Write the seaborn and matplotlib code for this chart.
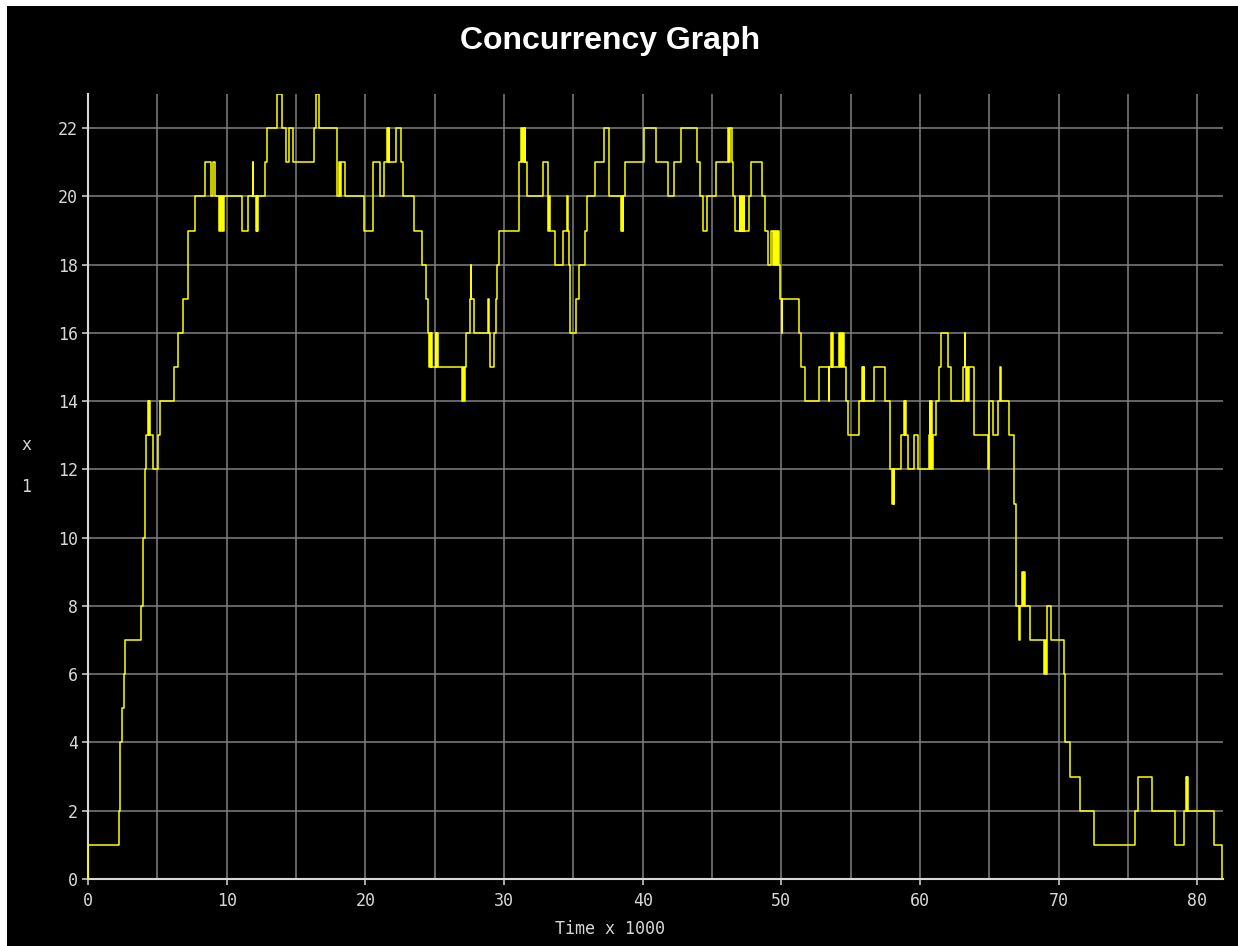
import matplotlib
matplotlib.use("Agg")
import matplotlib.pyplot as plt
from matplotlib.patches import Rectangle
from matplotlib.ticker import MultipleLocator
import pandas as pd
import seaborn as sns

# Number of concurrently running tasks; time in thousands, value holds until the next change
time_k = [
    0.00, 0.00, 2.21, 2.31, 2.45, 2.57, 2.69, 3.82, 3.94, 4.08, 4.21, 4.33, 4.38, 4.42, 4.47,
    4.69, 5.07, 5.21, 6.22, 6.47, 6.85, 7.21, 7.71, 8.46, 8.87, 9.01, 9.13,
    9.44, 9.52, 9.60, 9.68, 9.76, 9.84, 9.93, 11.10, 11.51, 11.87, 11.92,
    12.09, 12.16, 12.22, 12.28, 12.76, 12.88, 13.65, 13.99, 14.25, 14.51, 14.78,
    16.32, 16.42, 16.68, 17.93, 18.12, 18.18, 18.25, 18.55, 19.92, 20.57, 21.05, 21.32,
    21.58, 21.64, 21.69, 21.74, 22.21, 22.57, 22.71, 23.48, 24.10, 24.35, 24.49,
    24.61, 24.66, 24.71, 24.76, 24.80, 25.07, 25.12, 25.17, 25.23,
    26.97, 27.03, 27.08, 27.16, 27.23, 27.52, 27.61, 27.65, 27.85, 28.86, 28.91, 28.98,
    29.27, 29.39, 29.50, 29.63, 31.05, 31.24, 31.31, 31.37, 31.43, 31.49, 31.55, 31.63,
    32.78, 33.19, 33.26, 33.31, 33.69, 34.27, 34.56, 34.61, 34.72, 34.77, 35.18, 35.42,
    35.86, 35.96, 36.58, 37.20, 37.59, 38.45, 38.52, 38.56, 38.60, 38.69, 40.09, 40.95,
    41.86, 42.23, 42.73, 43.89, 44.12, 44.36, 44.65, 45.28, 46.17, 46.23, 46.29, 46.41,
    46.53, 46.65, 47.01, 47.04, 47.16, 47.19, 47.30, 47.33, 47.68, 47.80, 48.64, 48.81,
    49.05, 49.29, 49.37, 49.45, 49.53, 49.61, 49.69, 49.77, 49.84, 49.91, 50.02, 50.06,
    51.29, 51.43, 51.70, 52.68, 53.42, 53.45, 53.57, 53.62, 53.68, 53.73, 54.15, 54.22,
    54.27, 54.35, 54.42, 54.50, 54.65, 54.79, 55.61, 55.85, 55.90, 55.93, 55.97, 56.69,
    57.46, 57.87, 58.01, 58.06, 58.11, 58.16, 58.61, 58.85, 58.90, 58.95, 59.00, 59.12,
    59.57, 59.89, 60.66, 60.70, 60.75, 60.80, 60.86, 60.92, 61.14, 61.38, 61.52, 62.00,
    62.24, 63.11, 63.23, 63.27, 63.35, 63.40, 63.45, 63.50, 63.88, 64.91, 64.98, 65.27,
    65.66, 65.80, 65.84, 66.42, 66.76, 66.91, 67.15, 67.19, 67.39, 67.45, 67.50, 67.56,
    67.92, 68.93, 69.00, 69.07, 69.17, 69.43, 70.35, 70.46, 70.82, 71.57, 72.58, 75.49,
    75.75, 76.73, 78.37, 79.02, 79.16, 79.22, 79.28, 79.32, 81.18, 81.81, 81.85,
]
running = [
    0, 1, 2, 4, 5, 6, 7, 8, 10, 12, 13, 14, 13, 14, 13,
    12, 13, 14, 15, 16, 17, 19, 20, 21, 20, 21, 20,
    19, 20, 19, 20, 19, 20, 20, 19, 20, 21, 20,
    19, 20, 19, 20, 21, 22, 23, 22, 21, 22, 21,
    22, 23, 22, 20, 21, 20, 21, 20, 19, 21, 20, 21,
    22, 21, 22, 21, 22, 21, 20, 19, 18, 17, 16,
    15, 16, 15, 16, 15, 16, 15, 16, 15,
    14, 15, 14, 15, 16, 17, 18, 17, 16, 17, 16, 15,
    16, 17, 18, 19, 21, 22, 21, 22, 21, 22, 21, 20,
    21, 19, 20, 19, 18, 19, 20, 19, 18, 16, 17, 18,
    19, 20, 21, 22, 20, 19, 20, 19, 20, 21, 22, 21,
    20, 21, 22, 21, 20, 19, 20, 21, 22, 21, 22, 21,
    20, 19, 20, 19, 20, 19, 20, 19, 20, 21, 20, 19,
    18, 19, 18, 19, 18, 19, 18, 19, 18, 17, 16, 17,
    16, 15, 14, 15, 14, 15, 16, 15, 16, 15, 16, 15,
    16, 15, 16, 15, 14, 13, 14, 15, 14, 15, 14, 15,
    14, 12, 11, 12, 11, 12, 13, 14, 13, 14, 13, 12,
    13, 12, 13, 14, 12, 14, 12, 13, 14, 15, 16, 15,
    14, 15, 16, 15, 14, 15, 14, 15, 13, 12, 14, 13,
    14, 15, 14, 13, 11, 8, 7, 8, 9, 8, 9, 8,
    7, 6, 7, 6, 8, 7, 6, 4, 3, 2, 1, 2,
    3, 2, 1, 2, 3, 2, 3, 2, 1, 0, 0,
]
y_ticks = list(range(0, 23, 2))
x_ticks = list(range(0, 81, 10))

sns.set_theme(style="dark")
plt.rcParams["font.family"] = ["DejaVu Sans Mono", "DejaVu Sans"]

W, H = 1238, 946
fig = plt.figure(figsize=(W / 100, H / 100), dpi=100, facecolor="white")
fig.patches.append(Rectangle((7 / W, 0), 1 - 7 / W, 1 - 6 / H, transform=fig.transFigure,
                             facecolor="black", edgecolor="none", zorder=-10))

ax = fig.add_axes([88 / W, 1 - 879 / H, (1223 - 88) / W, (879 - 94) / H])
ax.set_facecolor("black")

df = pd.DataFrame({"time": time_k, "threads": running})
sns.lineplot(data=df, x="time", y="threads", ax=ax, color="#ffff00", linewidth=1.1,
             drawstyle="steps-post", estimator=None, sort=False, legend=False, zorder=3)

ax.set_xlim(0, 81.85)
ax.set_ylim(0, 23)
ax.set_xticks(x_ticks)
ax.xaxis.set_minor_locator(MultipleLocator(5))
ax.set_yticks(y_ticks)
ax.grid(True, which="both", color="#808080", linewidth=1.1)
ax.set_axisbelow(True)

for side in ("top", "right"):
    ax.spines[side].set_visible(False)
for side in ("left", "bottom"):
    ax.spines[side].set_color("#d8d8d8")
    ax.spines[side].set_linewidth(1.5)

ax.tick_params(axis="both", which="major", colors="#d8d8d8", labelcolor="#d8d8d8",
               labelsize=12, length=4.3, width=1.1, direction="out")
ax.tick_params(axis="y", pad=3, left=True)
ax.tick_params(axis="x", pad=5, bottom=True)
ax.tick_params(which="minor", length=0)
ax.set_xlabel("")
ax.set_ylabel("")

fig.text(610 / W, 1 - 41 / H, "Concurrency Graph", ha="center", va="center",
         family=["Liberation Sans", "DejaVu Sans"], fontweight="bold", fontsize=23, color="white")
fig.text(610 / W, 1 - 929 / H, "Time x 1000", ha="center", va="center",
         fontsize=12, color="#d8d8d8")
fig.text(26 / W, 1 - 445 / H, "x", ha="center", va="center", fontsize=12, color="#d8d8d8")
fig.text(26 / W, 1 - 487 / H, "1", ha="center", va="center", fontsize=12, color="#d8d8d8")

fig.savefig("out.png", dpi=100, facecolor="white")
